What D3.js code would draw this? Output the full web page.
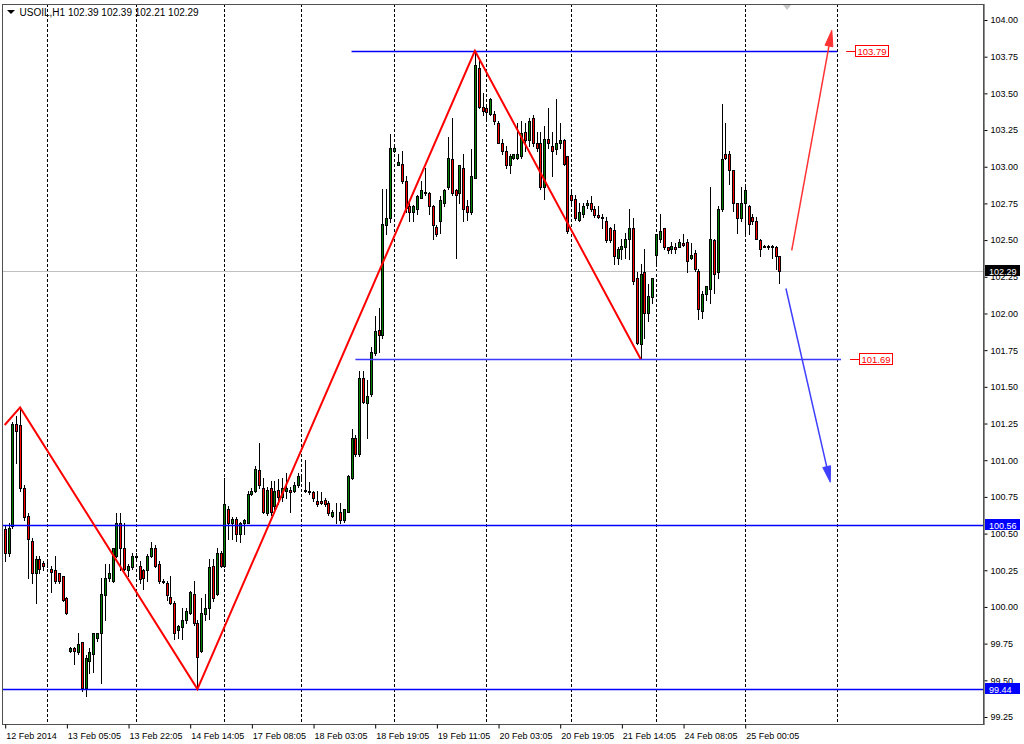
<!DOCTYPE html>
<html><head><meta charset="utf-8">
<script src="https://cdn.jsdelivr.net/npm/d3@7"></script>
<style>body{margin:0;background:#fff;}svg{display:block;font-family:"Liberation Sans",Arial,sans-serif;}</style>
</head><body><svg id="c" width="1024" height="744"></svg>
<script>
// ---------- DATA (USOIL, H1) ----------
const symbolTitle = "USOIL,H1";
const lastOHLC = [102.39, 102.39, 102.21, 102.29];
const opens = [
100.53,100.37,100.55,101.25,101.24,100.81,100.62,100.45,100.23,100.33,
100.30,100.29,100.26,100.25,100.23,100.21,100.06,99.70,99.72,99.69,
99.76,99.45,99.63,99.68,99.79,99.82,100.08,100.20,100.18,100.35,
100.57,100.40,100.25,100.27,100.34,100.28,100.25,100.25,100.35,100.40,
100.29,100.18,100.16,100.07,100.03,99.84,99.86,99.91,99.96,100.09,
99.89,99.70,99.95,99.99,100.28,100.09,100.37,100.28,100.67,100.57,
100.60,100.50,100.57,100.57,100.77,100.79,100.93,100.81,100.64,100.81,
100.69,100.80,100.75,100.79,100.80,100.79,100.83,100.87,100.80,100.79,
100.78,100.72,100.72,100.73,100.71,100.62,100.64,100.65,100.59,100.65,
100.88,101.15,101.04,101.56,101.39,101.45,101.73,101.89,101.85,102.60,
102.65,103.11,103.01,103.02,102.90,102.73,102.69,102.71,102.79,102.82,
102.82,102.73,102.59,102.63,102.75,102.86,103.05,102.84,102.82,102.99,
102.73,102.69,102.92,103.67,103.41,103.40,103.36,103.36,103.30,103.16,
103.11,103.01,103.06,103.06,103.07,103.24,103.18,103.33,103.16,103.16,
102.86,103.19,103.14,103.12,103.16,103.18,103.07,102.81,102.78,102.64,
102.68,102.74,102.75,102.71,102.67,102.66,102.63,102.58,102.57,102.38,
102.44,102.45,102.51,102.58,102.24,101.79,102.28,102.00,102.11,102.40,
102.51,102.58,102.45,102.44,102.45,102.45,102.48,102.49,102.38,102.41,
102.29,102.02,102.13,102.17,102.50,102.28,102.71,103.09,103.09,102.98,
102.75,102.65,102.75,102.73,102.66,102.63,102.50,102.46,102.46,102.46,
102.45,102.39];
const highs = [
100.55,100.57,101.26,101.30,101.36,100.83,100.64,100.47,100.35,100.35,
100.31,100.31,100.28,100.35,100.23,100.21,100.07,99.73,99.73,99.82,
99.76,99.67,99.72,99.82,99.82,100.20,100.29,100.29,100.40,100.64,
100.64,100.57,100.29,100.37,100.37,100.31,100.26,100.36,100.44,100.42,
100.31,100.19,100.18,100.21,100.04,99.88,99.99,99.99,100.11,100.18,
99.91,100.06,100.09,100.33,100.33,100.40,100.38,100.88,100.69,100.61,
100.61,100.58,100.60,100.79,100.81,100.96,101.12,100.88,100.82,100.86,
100.86,100.87,100.88,100.91,100.82,100.85,100.91,100.89,101.00,100.85,
100.79,100.79,100.78,100.74,100.72,100.66,100.71,100.71,100.67,100.90,
101.21,101.17,101.61,101.61,101.55,101.77,101.98,102.04,102.85,102.85,
103.22,103.14,103.09,103.11,102.94,102.75,102.74,102.81,102.90,102.99,
102.83,102.74,102.60,102.80,102.85,103.20,103.33,102.85,103.01,103.09,
102.77,103.12,103.78,103.74,103.50,103.43,103.47,103.38,103.31,103.19,
103.14,103.09,103.09,103.30,103.31,103.30,103.33,103.35,103.24,103.24,
103.28,103.40,103.24,103.46,103.30,103.19,103.07,102.84,102.81,102.75,
102.75,102.77,102.80,102.73,102.73,102.68,102.66,102.59,102.61,102.45,
102.51,102.55,102.71,102.65,102.28,102.34,102.44,102.20,102.24,102.54,
102.68,102.58,102.45,102.49,102.48,102.51,102.54,102.51,102.48,102.43,
102.30,102.15,102.19,102.86,102.51,102.73,103.43,103.30,103.11,102.98,
102.75,102.86,102.86,102.74,102.68,102.66,102.51,102.47,102.47,102.47,
102.46,102.39];
const lows = [
100.31,100.35,100.54,100.98,100.79,100.59,100.20,100.16,100.03,100.23,
100.25,100.27,100.10,100.16,100.16,100.04,99.95,99.69,99.61,99.68,
99.43,99.39,99.55,99.56,99.77,99.48,99.91,100.18,100.17,100.34,
100.25,100.25,100.21,100.26,100.33,100.16,100.12,100.18,100.34,100.27,
100.16,100.16,100.05,100.02,99.78,99.79,99.78,99.89,99.95,99.88,
99.44,99.69,99.91,99.92,100.04,100.08,100.27,100.27,100.46,100.46,
100.45,100.44,100.50,100.57,100.76,100.78,100.81,100.64,100.63,100.63,
100.67,100.70,100.72,100.74,100.65,100.78,100.82,100.86,100.78,100.77,
100.72,100.69,100.70,100.69,100.63,100.61,100.57,100.57,100.58,100.65,
100.87,101.03,101.03,101.39,101.15,101.44,101.72,101.74,101.83,102.54,
102.62,103.10,103.01,102.89,102.69,102.63,102.63,102.68,102.79,102.81,
102.68,102.51,102.53,102.55,102.73,102.85,102.81,102.38,102.75,102.63,
102.64,102.68,102.92,103.40,103.35,103.33,103.35,103.29,103.16,103.09,
102.99,102.96,103.05,103.05,103.06,103.11,103.14,103.14,103.11,102.85,
102.78,103.13,102.94,103.09,103.13,103.01,102.55,102.75,102.64,102.63,
102.66,102.72,102.70,102.66,102.65,102.58,102.49,102.49,102.34,102.34,
102.37,102.38,102.37,102.20,101.79,101.69,101.83,101.95,102.07,102.34,
102.49,102.44,102.41,102.41,102.41,102.45,102.46,102.28,102.37,102.29,
101.96,101.97,102.09,102.07,102.14,102.24,102.70,103.05,102.88,102.70,
102.55,102.63,102.55,102.54,102.61,102.51,102.39,102.45,102.44,102.38,
102.30,102.21];
const closes = [
100.37,100.54,101.25,101.20,100.81,100.61,100.46,100.23,100.33,100.26,
100.28,100.29,100.24,100.18,100.18,100.05,99.96,99.72,99.70,99.75,
99.45,99.65,99.69,99.82,99.82,100.09,100.20,100.23,100.40,100.57,
100.40,100.26,100.28,100.35,100.35,100.19,100.20,100.35,100.40,100.28,
100.18,100.17,100.08,100.03,99.82,99.87,99.91,99.97,100.10,99.89,
99.66,99.96,99.99,100.27,100.06,100.37,100.28,100.70,100.57,100.60,
100.50,100.57,100.59,100.77,100.79,100.94,100.83,100.65,100.80,100.65,
100.79,100.75,100.81,100.81,100.78,100.83,100.89,100.87,100.79,100.78,
100.74,100.70,100.71,100.70,100.64,100.65,100.64,100.59,100.67,100.89,
101.15,101.04,101.56,101.40,101.44,101.74,101.88,101.85,102.61,102.65,
103.13,103.13,103.03,102.90,102.72,102.69,102.73,102.80,102.84,102.83,
102.73,102.60,102.54,102.77,102.84,103.06,102.82,102.81,103.01,102.71,
102.69,102.94,103.69,103.41,103.38,103.37,103.46,103.31,103.16,103.11,
103.01,103.07,103.09,103.09,103.23,103.18,103.31,103.16,103.13,102.86,
103.19,103.16,103.11,103.16,103.18,103.02,102.56,102.77,102.65,102.69,
102.73,102.75,102.71,102.67,102.66,102.65,102.50,102.50,102.39,102.44,
102.46,102.51,102.58,102.22,101.80,102.27,102.00,102.12,102.24,102.54,
102.56,102.45,102.43,102.46,102.44,102.49,102.47,102.36,102.40,102.30,
102.03,102.13,102.19,102.51,102.27,102.71,103.05,103.06,102.98,102.75,
102.65,102.75,102.84,102.61,102.63,102.51,102.44,102.45,102.45,102.45,
102.39,102.29];
const timeLabels = ["12 Feb 2014","13 Feb 05:05","13 Feb 22:05","14 Feb 14:05","17 Feb 08:05","18 Feb 03:05","18 Feb 19:05","19 Feb 11:05","20 Feb 03:05","20 Feb 19:05","21 Feb 14:05","24 Feb 08:05","25 Feb 00:05"];
const timeLabelBars = [0,16,32,48,64,80,96,112,128,144,160,176,192];
const daySeparatorBars = [11,34,57,77,101,125,147,169,192,216];
const priceTicks = [104.00,103.75,103.50,103.25,103.00,102.75,102.50,102.25,102.00,101.75,101.50,101.25,101.00,100.75,100.50,100.25,100.00,99.75,99.50,99.25];
const zigzagBars = [0,4,50,122,165];
const zigzagPrices = [101.24,101.36,99.44,103.79,101.69];
const targetLevels = [103.79, 101.69];
const targetFromBars = [90, 91];
const targetToBars = [216, 217];
const fullLevels = [100.56, 99.44];
const bidPrice = 102.29;
const upArrowBars = [204.2, 214.6], upArrowPrices = [102.43, 103.93];
const downArrowBars = [202.7, 214.2], downArrowPrices = [102.17, 100.85];
const shiftMarkerBar = 203;

// ---------- CHART ----------
const W = 1024, H = 744;
const plot = {l: 2, t: 4, r: 983, b: 724};
const FS = 9;
const x = d3.scaleLinear().domain([0, 192]).range([4.7, 744.7]);
const y = d3.scaleLinear().domain([99.25, 104]).range([717, 20]);
const svg = d3.select('#c');
const px = v => Math.round(v) + 0.5;

svg.append('rect').attr('width', W).attr('height', H).attr('fill', '#fff');
svg.append('defs').append('clipPath').attr('id', 'clip').append('rect')
  .attr('x', plot.l + 1).attr('y', plot.t + 1).attr('width', plot.r - plot.l - 1).attr('height', plot.b - plot.t - 1);
const g = svg.append('g').attr('clip-path', 'url(#clip)');

// day separators
g.selectAll('line.sep').data(daySeparatorBars).join('line')
  .attr('x1', d => px(x(d))).attr('x2', d => px(x(d)))
  .attr('y1', plot.t).attr('y2', plot.b)
  .attr('stroke', '#000').attr('stroke-width', 1).attr('stroke-dasharray', '3,2');

// bid line
g.append('line').attr('x1', plot.l).attr('x2', plot.r).attr('y1', px(y(bidPrice))).attr('y2', px(y(bidPrice)))
  .attr('stroke', '#c0c0c0').attr('stroke-width', 1);

// candles
const bars = opens.map((o, i) => ({i, o, h: highs[i], l: lows[i], c: closes[i]}));
const cg = g.append('g');
cg.selectAll('line.wick').data(bars).join('line')
  .attr('x1', d => Math.round(x(d.i)) + 0.5).attr('x2', d => Math.round(x(d.i)) + 0.5)
  .attr('y1', d => Math.round(y(d.h))).attr('y2', d => Math.round(y(d.l)) + 1)
  .attr('stroke', '#000').attr('stroke-width', 1);
cg.selectAll('rect.body').data(bars).join('rect')
  .attr('x', d => Math.round(x(d.i)) - 0.5)
  .attr('y', d => Math.round(y(Math.max(d.o, d.c))) + 0.5)
  .attr('width', 2)
  .attr('height', d => Math.max(0, Math.round(y(Math.min(d.o, d.c))) - Math.round(y(Math.max(d.o, d.c)))))
  .attr('fill', d => d.c >= d.o ? '#008000' : '#ff0000')
  .attr('stroke', '#000').attr('stroke-width', 1);

// full-width levels
g.selectAll('line.lvl').data(fullLevels).join('line')
  .attr('x1', plot.l).attr('x2', plot.r)
  .attr('y1', d => Math.round(y(d)) + 0.5).attr('y2', d => Math.round(y(d)) + 0.5)
  .attr('stroke', '#0000ff').attr('stroke-width', 1.4);

// target levels
targetLevels.forEach((p, k) => {
  g.append('line').attr('x1', x(targetFromBars[k])).attr('x2', x(targetToBars[k]))
    .attr('y1', px(y(p))).attr('y2', px(y(p)))
    .attr('stroke', k === 0 ? '#0000ff' : '#3a3aff').attr('stroke-width', 1.4);
  const ex = x(targetToBars[k]);
  g.append('line').attr('x1', ex + 9).attr('x2', ex + 18).attr('y1', px(y(p))).attr('y2', px(y(p)))
    .attr('stroke', '#ff0000').attr('stroke-width', 1);
  g.append('rect').attr('x', Math.round(ex + 18) + 0.5).attr('y', Math.round(y(p)) - 5.5)
    .attr('width', 33).attr('height', 11).attr('fill', '#fff').attr('stroke', '#ff0000');
  g.append('text').attr('x', Math.round(ex + 18) + 17).attr('y', Math.round(y(p)) + 3.5)
    .attr('text-anchor', 'middle').attr('font-size', 9.5).attr('fill', '#ff0000').text(p.toFixed(2));
});

// zigzag
const zz = zigzagBars.map((b, i) => [b, zigzagPrices[i]]);
g.append('path').datum(zz)
  .attr('d', d3.line().x(d => x(d[0])).y(d => y(d[1])))
  .attr('fill', 'none').attr('stroke', '#ff0000').attr('stroke-width', 2).attr('stroke-linejoin', 'miter');

// arrows
function arrow(bs, ps, color) {
  const x1 = x(bs[0]), y1 = y(ps[0]), x2 = x(bs[1]), y2 = y(ps[1]);
  const ang = Math.atan2(y2 - y1, x2 - x1);
  const L = 16, hw = 4;
  const bx = x2 - L * Math.cos(ang), by = y2 - L * Math.sin(ang);
  g.append('line').attr('x1', x1).attr('y1', y1).attr('x2', bx).attr('y2', by)
    .attr('stroke', color).attr('stroke-width', 1.5);
  const nx = -Math.sin(ang), ny = Math.cos(ang);
  g.append('path').attr('d', `M${x2},${y2}L${bx + nx * hw},${by + ny * hw}L${bx - nx * hw},${by - ny * hw}Z`)
    .attr('fill', color).attr('stroke', color).attr('stroke-width', 1);
}
arrow(upArrowBars, upArrowPrices, '#ff3333');
arrow(downArrowBars, downArrowPrices, '#3f3fff');

// chart shift marker
const sx = x(shiftMarkerBar);
svg.append('path').attr('d', `M${sx - 4},${plot.t + 1}L${sx + 4},${plot.t + 1}L${sx},${plot.t + 6}Z`).attr('fill', '#c8c8c8');

// frame
svg.append('rect').attr('x', plot.l + 0.5).attr('y', plot.t + 0.5)
  .attr('width', plot.r - plot.l).attr('height', plot.b - plot.t)
  .attr('fill', 'none').attr('stroke', '#505050').attr('stroke-width', 1);
svg.append('line').attr('x1', plot.r + 1.5).attr('x2', plot.r + 1.5).attr('y1', plot.t).attr('y2', plot.b + 1)
  .attr('stroke', '#909090');

// price axis
const ya = d3.axisRight(y).tickValues(priceTicks).tickFormat(d3.format('.2f')).tickSize(3).tickPadding(3);
const yg = svg.append('g').attr('transform', `translate(${plot.r + 1.5},0)`).call(ya);
yg.select('.domain').remove();
yg.selectAll('text').attr('font-size', FS).attr('fill', '#000').attr('font-family', '"Liberation Sans",Arial,sans-serif');
yg.selectAll('line').attr('stroke', '#000');

// time axis
const xa = d3.axisBottom(x).tickValues(timeLabelBars).tickFormat((d, i) => timeLabels[i]).tickSize(4).tickPadding(2);
const xg = svg.append('g').attr('transform', `translate(0.5,${plot.b + 0.5})`).call(xa);
xg.select('.domain').remove();
xg.selectAll('text').attr('text-anchor', 'start').attr('dx', 0.5).attr('dy', '0.95em')
  .attr('font-size', FS).attr('fill', '#000').attr('font-family', '"Liberation Sans",Arial,sans-serif');
xg.selectAll('line').attr('stroke', '#000');

// axis value boxes (drawn over the price scale, as in the terminal)
function axisBox(p, bg, fg) {
  const yy = Math.round(y(p));
  svg.append('rect').attr('x', plot.r + 2).attr('y', yy - 6).attr('width', 35).attr('height', 11).attr('fill', bg);
  svg.append('text').attr('x', plot.r + 6).attr('y', yy + 3.5).attr('font-size', FS).attr('fill', fg).text(p.toFixed(2));
}
axisBox(bidPrice, '#000', '#fff');
fullLevels.forEach(p => axisBox(p, '#0000ff', '#fff'));

// title
svg.append('path').attr('d', 'M7,10L15,10L11,14Z').attr('fill', '#000');
svg.append('text').attr('x', 19.5).attr('y', 16).attr('font-size', 10).attr('fill', '#000').text(symbolTitle);
svg.append('text').attr('x', 68).attr('y', 16).attr('font-size', 10).attr('fill', '#000').text(lastOHLC.map(v => v.toFixed(2)).join(' '));
</script></body></html>
